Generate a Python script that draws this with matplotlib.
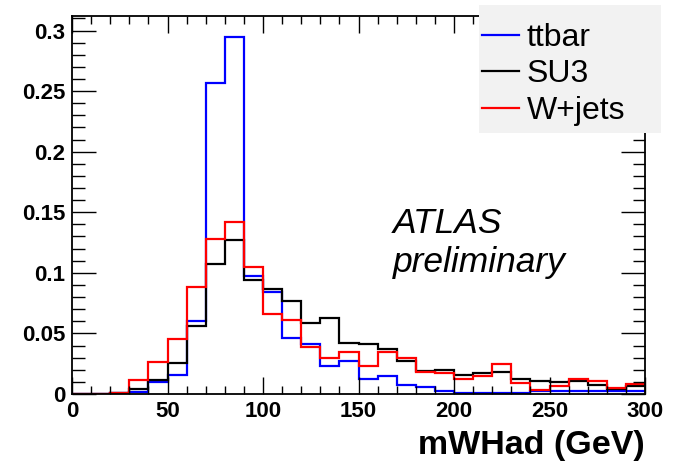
import numpy as np
import matplotlib

matplotlib.use("Agg")
import matplotlib.pyplot as plt
from matplotlib.ticker import MultipleLocator
from matplotlib.lines import Line2D
from matplotlib.patches import Rectangle

plt.rcParams["font.family"] = ["Liberation Sans", "DejaVu Sans"]

# Bin edges of the hadronic W mass histogram (GeV), 10 GeV bins
bin_edges = np.arange(0, 310, 10)

# Normalised entries per bin
ttbar = [0.0, 0.0, 0.0005, 0.002, 0.010, 0.016, 0.060, 0.257, 0.295, 0.097,
         0.084, 0.046, 0.041, 0.023, 0.027, 0.0127, 0.0146, 0.0072, 0.006, 0.0025,
         0.0008, 0.001, 0.001, 0.0008, 0.0025, 0.0025, 0.0025, 0.0025, 0.0025, 0.0025]
su3 = [0.0, 0.0, 0.001, 0.004, 0.0115, 0.026, 0.056, 0.107, 0.127, 0.094,
       0.087, 0.077, 0.059, 0.063, 0.042, 0.041, 0.0375, 0.0275, 0.019, 0.020,
       0.016, 0.0175, 0.018, 0.0127, 0.0107, 0.0099, 0.0105, 0.0072, 0.004, 0.0066]
wjets = [0.0, 0.0, 0.001, 0.0115, 0.0265, 0.045, 0.0885, 0.128, 0.142, 0.105,
         0.066, 0.061, 0.039, 0.030, 0.035, 0.023, 0.0344, 0.030, 0.018, 0.0174,
         0.0124, 0.0146, 0.025, 0.009, 0.003, 0.0063, 0.0124, 0.0107, 0.0052, 0.008]

samples = ["ttbar", "SU3", "W+jets"]
colors = ["#0000ff", "#000000", "#ff0000"]

W, H = 675, 467
fig = plt.figure(figsize=(W / 100, H / 100), dpi=100)
ax = fig.add_axes([72 / W, 73 / H, 573 / W, 378 / H])

for vals, col in zip([ttbar, su3, wjets], colors):
    ax.stairs(vals, bin_edges, color=col, linewidth=1.6, baseline=None)

ax.set_xlim(0, 300)
ax.set_ylim(0, 0.312)

# ROOT-style ticks: inward, on all four sides
ax.xaxis.set_minor_locator(MultipleLocator(10))
ax.yaxis.set_minor_locator(MultipleLocator(0.01))
ax.tick_params(which="both", direction="in", top=True, right=True, width=1.0)
ax.tick_params(axis="x", which="major", length=12)
ax.tick_params(axis="x", which="minor", length=6)
ax.tick_params(axis="y", which="major", length=17)
ax.tick_params(axis="y", which="minor", length=9)
ax.tick_params(axis="both", which="major", labelsize=16, pad=5)
ax.set_yticks(np.arange(0, 0.31, 0.05))
ax.set_yticklabels(["0", "0.05", "0.1", "0.15", "0.2", "0.25", "0.3"],
                   fontweight="bold")
ax.set_xticks(np.arange(0, 301, 50))
ax.set_xticklabels([str(v) for v in range(0, 301, 50)], fontweight="bold")
for sp in ax.spines.values():
    sp.set_linewidth(1.3)

ax.set_xlabel("mWHad (GeV)", fontsize=24.5, fontweight="bold", loc="right",
              labelpad=6)

ax.text(0.560, 0.426, "ATLAS", transform=ax.transAxes,
        fontsize=25.5, fontstyle="italic", va="baseline", ha="left")
ax.text(0.560, 0.323, "preliminary", transform=ax.transAxes,
        fontsize=25.5, fontstyle="italic", va="baseline", ha="left")

# legend box, sticking out past the top-right corner of the frame
fig.patches.append(Rectangle((479 / W, 1 - 133 / H), 182 / W, 128 / H,
                             transform=fig.transFigure, facecolor="#f2f2f2",
                             edgecolor="none", zorder=5))
handles = [Line2D([], [], color=c, linewidth=1.6) for c in colors]
leg = fig.legend(handles, samples, loc="upper left",
                 bbox_to_anchor=(482 / W, 1 - 23 / H), fontsize=23,
                 frameon=False, handlelength=1.15, handletextpad=0.25,
                 borderpad=0, labelspacing=0.2, borderaxespad=0)
leg.set_zorder(6)

fig.savefig("out.png", dpi=100)
